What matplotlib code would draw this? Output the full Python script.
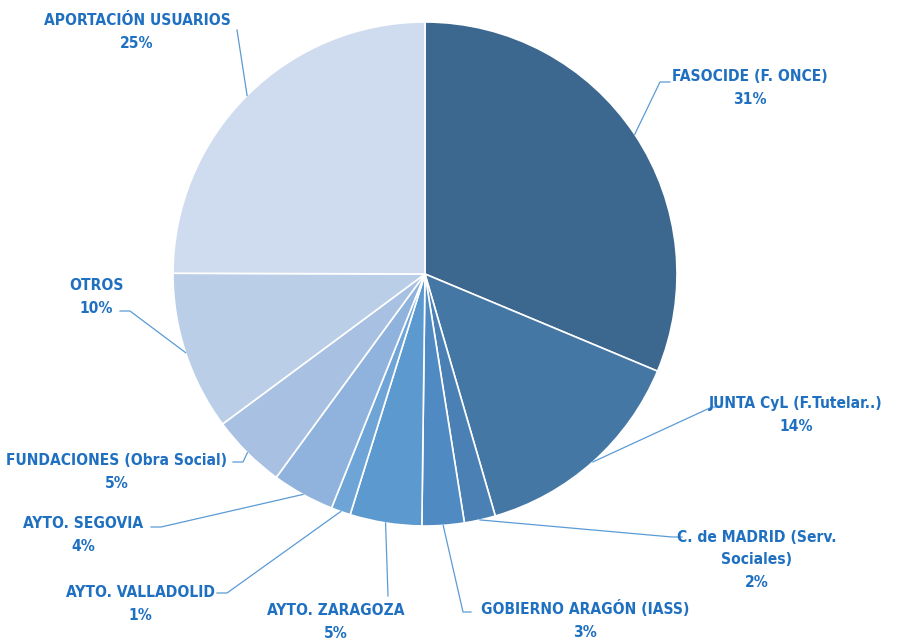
import matplotlib.pyplot as plt
import numpy as np

# datos
etiquetas = ['FASOCIDE (F. ONCE)', 'JUNTA CyL (F.Tutelar..)', 'C. de MADRID (Serv.\nSociales)',
             'GOBIERNO ARAGÓN (IASS)', 'AYTO. ZARAGOZA', 'AYTO. VALLADOLID', 'AYTO. SEGOVIA',
             'FUNDACIONES (Obra Social)', 'OTROS', 'APORTACIÓN USUARIOS']
valores = [31.3, 14.2, 2.0, 2.7, 4.6, 1.25, 4.0, 4.8, 10.2, 24.95]
porcentajes = ['31%', '14%', '2%', '3%', '5%', '1%', '4%', '5%', '10%', '25%']
colores = ['#3C678F', '#4577A5', '#4A80B4', '#508AC2', '#5B99CF', '#6FA4D7',
           '#8FB3DD', '#A8C1E3', '#BBCEE8', '#CFDBEE']

# posiciones de las etiquetas (centro del texto) y codo de la linea guia, en pixeles
pos_texto = [(750, 88), (796, 415), (757, 560), (585, 620), (336, 622),
             (140, 604), (83, 535), (117, 472), (96, 297), (137, 32)]
codo = [(660, 82), (712, 407), (672, 537), (463, 612), (388, 596),
        (227, 593), (161, 527), (243, 462), (130, 311), (237, 30)]
tramo = [10, 10, 10, 8, 0, 10, 10, 10, 10, 0]

cx, cy, R = 425, 274, 252
def a_datos(p):
    return ((p[0] - cx) / R, (cy - p[1]) / R)

fig = plt.figure(figsize=(9.17, 6.41), dpi=100)
ax = fig.add_axes([(cx - R) / 917, (641 - cy - R) / 641, 2 * R / 917, 2 * R / 641])

wedges, _ = ax.pie(valores, colors=colores, startangle=90, counterclock=False,
                   wedgeprops=dict(edgecolor='white', linewidth=1.2))
ax.set_xlim(-1, 1)
ax.set_ylim(-1, 1)

azul = '#1F70C1'
for w, et, pc, pt, cd, tr in zip(wedges, etiquetas, porcentajes, pos_texto, codo, tramo):
    ang = np.deg2rad((w.theta1 + w.theta2) / 2)
    x0, y0 = np.cos(ang), np.sin(ang)
    ex, ey = a_datos(cd)
    tx, ty = a_datos(pt)
    # segmento corto horizontal hacia el texto
    hx = ex + (tr / R if tx > ex else -tr / R)
    ax.plot([x0, ex, hx], [y0, ey, ey], color='#5B9BD5', lw=0.9, clip_on=False)
    ax.text(tx, ty, et + '\n' + pc, ha='center', va='center', color=azul,
            fontsize=11.2, fontweight='bold', fontstretch='condensed',
            family=['DejaVu Sans'], linespacing=1.65)

plt.savefig('out.png', dpi=100)
